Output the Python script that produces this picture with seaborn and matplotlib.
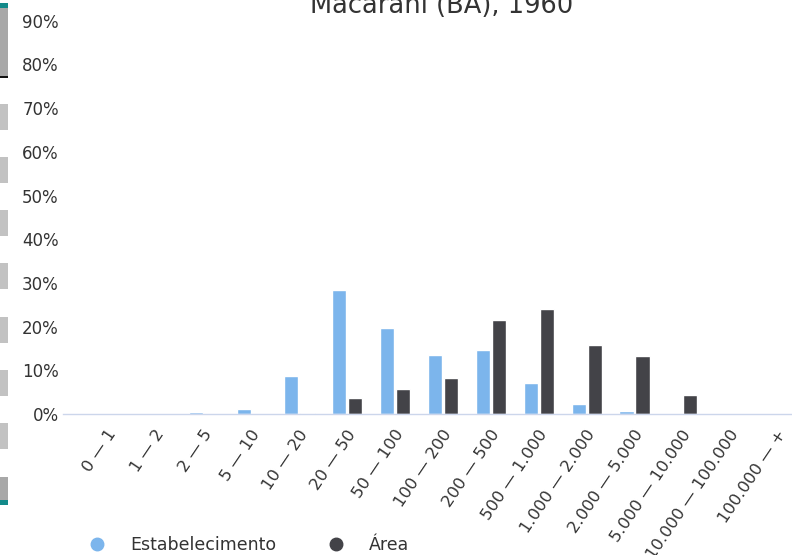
import matplotlib
matplotlib.use("Agg")
import matplotlib.pyplot as plt
import matplotlib.transforms as mtransforms
from matplotlib.lines import Line2D
from matplotlib.patches import Rectangle
import seaborn as sns
import pandas as pd

# Estrutura fundiária - Macarani (BA), 1960
categorias = ["0 — 1", "1 — 2", "2 — 5", "5 — 10", "10 — 20", "20 — 50",
              "50 — 100", "100 — 200", "200 — 500", "500 — 1.000",
              "1.000 — 2.000", "2.000 — 5.000", "5.000 — 10.000",
              "10.000 — 100.000", "100.000 — +"]
estabelecimento = [0, 0, 0.4, 1.2, 8.6, 28.4, 19.6, 13.4, 14.6, 7.0,
                   2.2, 0.7, 0, 0, 0]
area = [0, 0, 0, 0, 0.2, 3.7, 5.8, 8.2, 21.4, 24.0, 15.9, 13.2, 4.3, 0, 0]
y_ticks = [0, 10, 20, 30, 40, 50, 60, 70, 80, 90]

series = {"Estabelecimento": estabelecimento, "Área": area}
cores = {"Estabelecimento": "#7cb5ec", "Área": "#434348"}

df = pd.DataFrame([
    {"classe": c, "serie": s, "valor": v}
    for s, vals in series.items()
    for c, v in zip(categorias, vals)
])

sns.set_style("white")
plt.rcParams["font.family"] = ["DejaVu Sans"]
texto = "#333333"

fig = plt.figure(figsize=(7.92, 5.55), dpi=100)
W, H = 792, 555
ax = fig.add_axes([63 / W, 1 - 414 / H, 729 / W, (414 - 20.7) / H])

sns.barplot(data=df, x="classe", y="valor", hue="serie", order=categorias,
            hue_order=list(series), palette=cores, width=0.67, gap=0.12,
            edgecolor="white", linewidth=1, saturation=1, legend=False, ax=ax)

ax.set_xlim(-0.94, 14.29)
ax.set_ylim(0, 90)
ax.set_xlabel("")
ax.set_ylabel("")
for s in ["top", "right", "left"]:
    ax.spines[s].set_visible(False)
ax.spines["bottom"].set_color("#ccd6eb")
ax.spines["bottom"].set_linewidth(1)

ax.set_yticks(y_ticks)
ax.set_yticklabels([f"{v}%" for v in y_ticks], fontsize=12, color=texto)
ax.tick_params(axis="y", length=0, pad=3)

ax.set_xticks(range(len(categorias)))
ax.set_xticklabels(categorias, rotation=56, ha="right", va="center",
                   rotation_mode="anchor", fontsize=11.8, color=texto)
ax.tick_params(axis="x", length=0, pad=12.5)
offset = mtransforms.ScaledTranslation(5 / 100, 0, fig.dpi_scale_trans)
for lbl in ax.get_xticklabels():
    lbl.set_transform(lbl.get_transform() + offset)

fig.text(441.5 / W, 1 - 13 / H, "Macarani (BA), 1960", ha="center",
         va="baseline", fontsize=18.5, color=texto)

# legenda com marcadores circulares
handles = [Line2D([0], [0], marker="o", linestyle="", markersize=9,
                  markerfacecolor=cores[s], markeredgecolor=cores[s], label=s)
           for s in series]
leg = fig.legend(handles=handles, loc="center left",
                 bbox_to_anchor=(88.3 / W, 10 / H), ncol=2, frameon=False,
                 fontsize=12.5, borderpad=0, handlelength=1,
                 handletextpad=1.4, columnspacing=2.95, borderaxespad=0)
for t in leg.get_texts():
    t.set_color(texto)

# barra de navegação lateral (resto da página)
def faixa(y0, y1, cor):
    fig.add_artist(Rectangle((0, 1 - y1 / H), 8 / W, (y1 - y0) / H,
                             transform=fig.transFigure, facecolor=cor,
                             edgecolor="none"))

faixa(3, 8, "#138a8a")
faixa(8, 77, "#a8a8a8")
faixa(76, 78, "#111111")
for y0 in [104, 157, 210, 263, 317, 370, 423]:
    faixa(y0, y0 + 26, "#c2c2c2")
faixa(477, 500, "#a8a8a8")
faixa(500, 505, "#138a8a")

fig.savefig("out.png", dpi=100, facecolor="white")
